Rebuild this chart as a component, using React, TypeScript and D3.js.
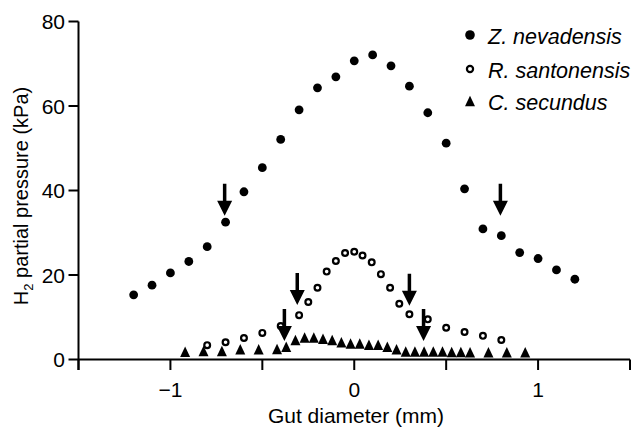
import React from "react";
import * as d3 from "d3";

// Z. nevadensis (filled circles)
const zX = [-1.2, -1.1, -1.0, -0.9, -0.8, -0.7, -0.6, -0.5, -0.4, -0.3, -0.2, -0.1, 0, 0.1, 0.2, 0.3, 0.4, 0.5, 0.6, 0.7, 0.8, 0.9, 1.0, 1.1, 1.2];
const zY = [15.3, 17.6, 20.5, 23.2, 26.7, 32.5, 39.7, 45.4, 52.1, 59.1, 64.3, 66.9, 70.7, 72.1, 69.5, 64.7, 58.4, 51.2, 40.4, 30.9, 29.3, 25.3, 23.9, 21.2, 19.0];

// R. santonensis (open circles)
const rX = [-0.8, -0.7, -0.6, -0.5, -0.4, -0.3, -0.25, -0.2, -0.15, -0.1, -0.05, 0, 0.045, 0.095, 0.145, 0.195, 0.245, 0.3, 0.4, 0.5, 0.6, 0.7, 0.8];
const rY = [3.4, 4.1, 5.1, 6.3, 7.9, 10.5, 13.6, 17.0, 20.8, 23.3, 25.2, 25.5, 24.6, 23.0, 20.2, 17.0, 13.2, 10.7, 9.5, 7.5, 6.5, 5.6, 4.6];

// C. secundus (triangles)
const cX = [-0.92, -0.82, -0.72, -0.62, -0.52, -0.42, -0.37, -0.32, -0.27, -0.22, -0.17, -0.12, -0.07, -0.02, 0.03, 0.08, 0.13, 0.18, 0.23, 0.28, 0.33, 0.38, 0.43, 0.48, 0.53, 0.58, 0.63, 0.73, 0.83, 0.93];
const cY = [1.85, 2.0, 2.0, 2.4, 2.4, 2.5, 3.0, 4.6, 5.2, 5.2, 4.9, 4.6, 4.1, 3.8, 3.8, 3.5, 3.5, 3.0, 2.4, 1.9, 1.9, 1.9, 1.9, 1.9, 1.8, 1.8, 1.7, 1.7, 1.7, 1.7];

// Arrows (annotation): x position and value at arrow tip
const arrowX = [-0.705, 0.795, -0.31, 0.3, -0.38, 0.377];
const arrowTip = [34, 34, 12.9, 12.7, 4.4, 4.4];

const xTicks = [-1.5, -1, -0.5, 0, 0.5, 1, 1.5];
const xTickLabels = ["", "\u22121", "", "0", "", "1", ""];
const yTicks = [0, 20, 40, 60, 80];
const yTickLabels = ["0", "20", "40", "60", "80"];

const legendNames = ["Z. nevadensis", "R. santonensis", "C. secundus"];

const W = 634;
const H = 428;
const FONT = "'Liberation Sans', Arial, Helvetica, sans-serif";

const x = d3.scaleLinear().domain([-1.5, 1.5]).range([78.5, 630]);
const y = d3.scaleLinear().domain([0, 80]).range([359.5, 21.5]);

function triPath(cx: number, cy: number, w = 10, h = 10.5) {
  const p = d3.path();
  p.moveTo(cx, cy - h / 2);
  p.lineTo(cx + w / 2, cy + h / 2);
  p.lineTo(cx - w / 2, cy + h / 2);
  p.closePath();
  return p.toString();
}

function arrowPath(cx: number, tipY: number) {
  const len = 32;
  const headH = 15;
  const headW = 15;
  const shaftW = 3.5;
  const p = d3.path();
  p.moveTo(cx - shaftW / 2, tipY - len);
  p.lineTo(cx + shaftW / 2, tipY - len);
  p.lineTo(cx + shaftW / 2, tipY - headH);
  p.lineTo(cx + headW / 2, tipY - headH);
  p.lineTo(cx, tipY);
  p.lineTo(cx - headW / 2, tipY - headH);
  p.lineTo(cx - shaftW / 2, tipY - headH);
  p.closePath();
  return p.toString();
}

export default function App() {
  const axisColor = "#000";
  const legendX = 470;
  const legendY = [35, 69, 101];
  return (
    <svg
      width={W}
      height={H}
      viewBox={`0 0 ${W} ${H}`}
      style={{ position: "absolute", left: 0, top: 0, background: "#fff" }}
      fontFamily={FONT}
    >
      <rect x={0} y={0} width={W} height={H} fill="#fff" />
      {/* Y axis */}
      <line x1={x(-1.5)} x2={x(-1.5)} y1={y(80)} y2={y(0) + 10.5} stroke={axisColor} strokeWidth={2} />
      {yTicks.map((t, i) => (
        <g key={"yt" + i}>
          <line x1={x(-1.5) - 10} x2={x(-1.5)} y1={y(t)} y2={y(t)} stroke={axisColor} strokeWidth={2} />
          <text x={65} y={y(t) + 7.5} textAnchor="end" fontSize={21} fill="#000">
            {yTickLabels[i]}
          </text>
        </g>
      ))}
      {/* X axis */}
      <line x1={x(-1.5)} x2={x(1.5)} y1={y(0)} y2={y(0)} stroke={axisColor} strokeWidth={2} />
      {xTicks.map((t, i) => (
        <g key={"xt" + i}>
          <line x1={x(t)} x2={x(t)} y1={y(0)} y2={y(0) + 10.5} stroke={axisColor} strokeWidth={2} />
          {xTickLabels[i] && (
            <text x={x(t)} y={397} textAnchor="middle" fontSize={21} fill="#000">
              {xTickLabels[i]}
            </text>
          )}
        </g>
      ))}
      <text x={356} y={422.5} textAnchor="middle" fontSize={21} fill="#000">
        Gut diameter (mm)
      </text>
      <text transform="translate(28,196) rotate(-90)" textAnchor="middle" fontSize={20} fill="#000">
        H<tspan fontSize={13} dy={5}>2</tspan>
        <tspan dy={-5}> partial pressure (kPa)</tspan>
      </text>

      {/* C. secundus */}
      {cX.map((v, i) => (
        <path key={"c" + i} d={triPath(x(v), y(cY[i]))} fill="#000" />
      ))}
      {/* R. santonensis */}
      {rX.map((v, i) => (
        <circle key={"r" + i} cx={x(v)} cy={y(rY[i])} r={2.9} fill="#fff" stroke="#000" strokeWidth={2.2} />
      ))}
      {/* Z. nevadensis */}
      {zX.map((v, i) => (
        <circle key={"z" + i} cx={x(v)} cy={y(zY[i])} r={4.4} fill="#000" />
      ))}
      {/* arrows */}
      {arrowX.map((v, i) => (
        <path key={"a" + i} d={arrowPath(x(v), y(arrowTip[i]))} fill="#000" />
      ))}

      {/* legend */}
      <circle cx={legendX} cy={legendY[0]} r={4.8} fill="#000" />
      <circle cx={legendX} cy={legendY[1]} r={3.1} fill="#fff" stroke="#000" strokeWidth={2.2} />
      <path d={triPath(legendX, legendY[2])} fill="#000" />
      {legendNames.map((n, i) => (
        <text key={"l" + i} x={488} y={legendY[i] + 8.5} fontSize={21.5} fontStyle="italic" fill="#000">
          {n}
        </text>
      ))}
    </svg>
  );
}
